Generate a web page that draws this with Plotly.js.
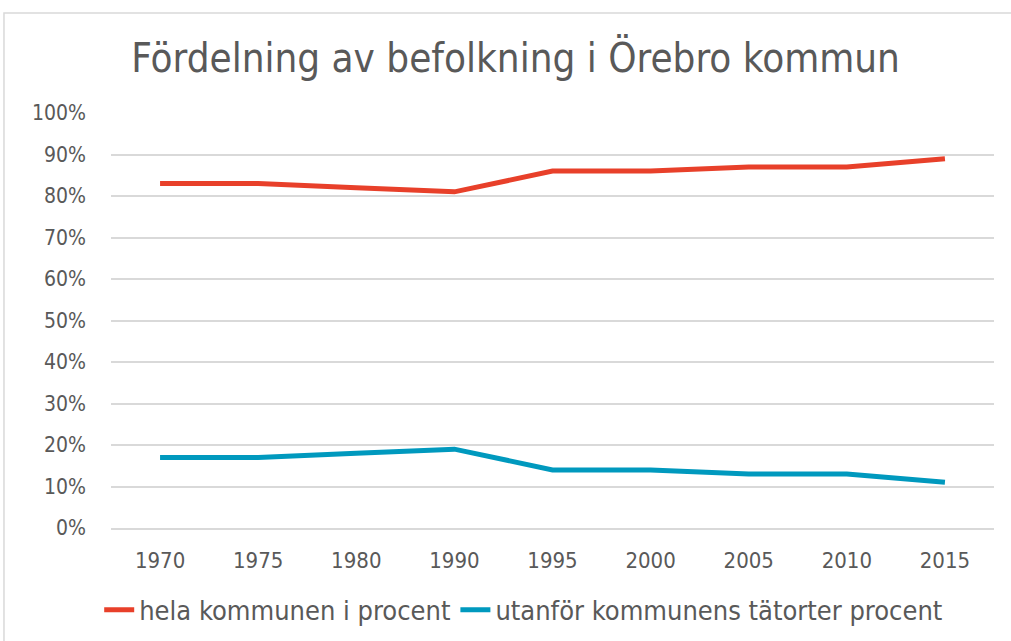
<!DOCTYPE html>
<html>
<head>
<meta charset="utf-8">
<script src="https://cdn.plot.ly/plotly-3.0.1.min.js"></script>
<style>html,body{margin:0;padding:0;background:#fff;}#chart{width:1011px;height:641px;}</style>
</head>
<body>
<div id="chart"></div>
<script>
const years = ["1970","1975","1980","1990","1995","2000","2005","2010","2015"];
const helaKommunen = [0.83,0.83,0.82,0.81,0.86,0.86,0.87,0.87,0.89];
const utanforTatorter = [0.17,0.17,0.18,0.19,0.14,0.14,0.13,0.13,0.11];
const seriesNames = ["hela kommunen i procent","utanför kommunens tätorter procent"];
const yTicks = [0,0.1,0.2,0.3,0.4,0.5,0.6,0.7,0.8,0.9,1.0];

const FONT = "'DejaVu Sans Condensed', 'Liberation Sans', sans-serif";
const traces = [
  {x: years, y: helaKommunen, name: seriesNames[0], type: 'scatter', mode: 'lines',
   line: {color: '#E8402A', width: 5}},
  {x: years, y: utanforTatorter, name: seriesNames[1], type: 'scatter', mode: 'lines',
   line: {color: '#0099BE', width: 5}}
];
const layout = {
  width: 1011, height: 641,
  margin: {l: 111, r: 17, t: 113, b: 113},
  paper_bgcolor: '#ffffff', plot_bgcolor: '#ffffff',
  font: {family: FONT, color: '#595959', size: 21},
  title: {text: 'Fördelning av befolkning i Örebro kommun', x: 0.51, xref: 'container',
          y: 0.91, yref: 'container', yanchor: 'middle', xanchor: 'center',
          font: {family: FONT, size: 40, color: '#595959'}},
  xaxis: {type: 'category', showgrid: false, zeroline: false, showline: true,
          linecolor: '#d9d9d9', linewidth: 1.5, ticks: '', ticklabelstandoff: 12,
          tickfont: {size: 22, color: '#595959'}, range: [-0.5, 8.5], automargin: false},
  yaxis: {range: [0, 1.0], tickvals: yTicks, tickformat: '.0%', showgrid: true,
          gridcolor: '#d9d9d9', gridwidth: 1.5, zeroline: false, showline: false,
          ticks: '', ticklabelstandoff: 24, tickfont: {size: 21, color: '#595959'}, automargin: false},
  showlegend: true,
  legend: {orientation: 'h', xref: 'container', yref: 'container', x: 0.518, xanchor: 'center',
           y: 0.048, yanchor: 'middle',
           font: {size: 27, color: '#595959'}, itemwidth: 30},
  shapes: [
    {type: 'rect', xref: 'paper', yref: 'paper', x0: -0.1212, x1: 1.1, y0: -0.4, y1: 1.241,
     line: {color: '#d9d9d9', width: 1.5}, fillcolor: 'rgba(0,0,0,0)', layer: 'below'}
  ]
};
Plotly.newPlot('chart', traces, layout, {displayModeBar: false});
</script>
</body>
</html>
